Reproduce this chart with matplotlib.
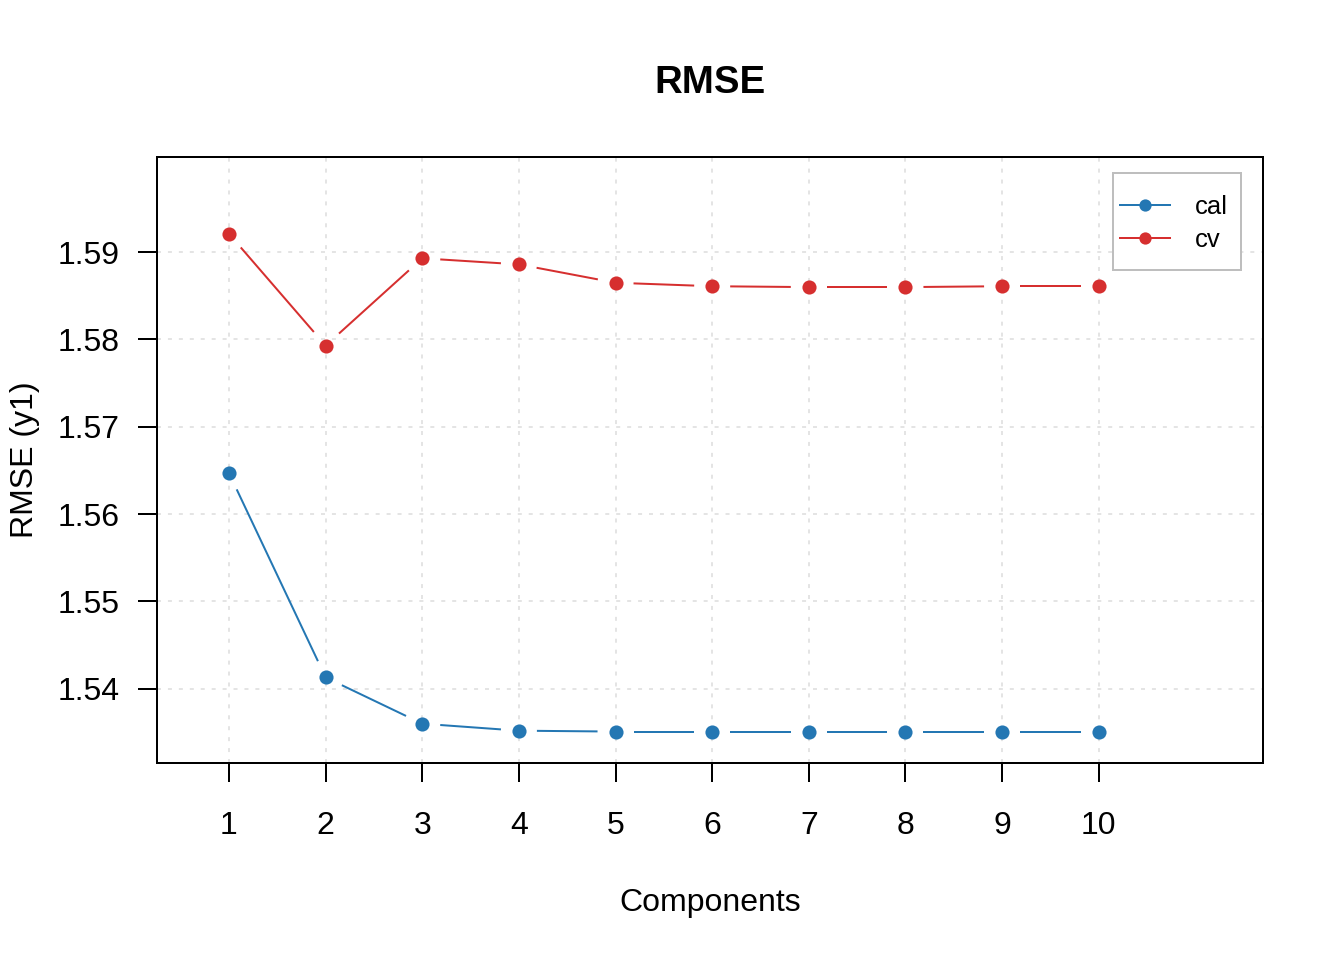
import matplotlib
matplotlib.use("Agg")
import matplotlib.pyplot as plt
from matplotlib.lines import Line2D
from matplotlib.patches import Rectangle
import numpy as np

plt.rcParams['font.family'] = ['Liberation Sans', 'DejaVu Sans']

# data
components = [1, 2, 3, 4, 5, 6, 7, 8, 9, 10]
rmse_cal = [1.5647, 1.5413, 1.5360, 1.5352, 1.5351, 1.5351, 1.5351, 1.5351, 1.5351, 1.5351]
rmse_cv = [1.5921, 1.5793, 1.5893, 1.5886, 1.5865, 1.5861, 1.5860, 1.5860, 1.5861, 1.5861]
yticks = [1.54, 1.55, 1.56, 1.57, 1.58, 1.59]

blue = '#2477b3'
red = '#d62f2f'
grid_col = '#dedede'

W, H = 1344, 960
fig = plt.figure(figsize=(7, 5), dpi=192)
ax = fig.add_axes([157/W, 1-763/H, (1263-157)/W, (763-157)/H])
ax.set_xlim(0.255, 11.70)
ax.set_ylim(1.5315, 1.6009)

# grid (dotted, very light)
glw = 0.6
gls = (0, (1.5/glw, 2.6/glw))
for v in components:
    ax.axvline(v, color=grid_col, lw=glw, ls=gls, zorder=1)
for v in yticks:
    ax.axhline(v, color=grid_col, lw=glw, ls=gls, zorder=1)


def gapped_line(x, y, color, gap=18):
    """R type='b': segments between points with a gap around each point"""
    pts = ax.transData.transform(np.column_stack([x, y]))
    inv = ax.transData.inverted()
    for a, b in zip(pts[:-1], pts[1:]):
        d = b - a
        n = np.hypot(*d)
        if n <= 2 * gap:
            continue
        u = d / n
        seg = inv.transform(np.array([a + u * gap, b - u * gap]))
        ax.plot(seg[:, 0], seg[:, 1], color=color, lw=0.75, zorder=2,
                solid_capstyle='butt')
    ax.plot(x, y, 'o', color=color, ms=5.3, mec='none', zorder=3)


gapped_line(components, rmse_cal, blue)
gapped_line(components, rmse_cv, red)

ax.set_xticks(components)
ax.set_yticks(yticks)
ax.set_yticklabels(['%.2f' % v for v in yticks])
ax.tick_params(axis='both', direction='out', length=7, width=0.75, labelsize=12)
ax.tick_params(axis='x', pad=11)
ax.tick_params(axis='y', pad=7)
for s in ax.spines.values():
    s.set_linewidth(0.75)

fig.text(710/W, 1-83/H, 'RMSE', ha='center', va='center', fontsize=14.4, fontweight='bold')
fig.text(710/W, 1-903/H, 'Components', ha='center', va='center', fontsize=12)
fig.text(25/W, 1-460/H, 'RMSE (y1)', ha='center', va='center', fontsize=12, rotation=90)

# legend box like R's legend()
ax.add_patch(Rectangle((1113/W, 1-270/H), 128/W, 97/H, transform=fig.transFigure,
                       facecolor='white', edgecolor='#bebebe', lw=0.75, zorder=5,
                       clip_on=False))
handles = [Line2D([], [], color=blue, lw=0.75, marker='o', ms=4.6, mec='none'),
           Line2D([], [], color=red, lw=0.75, marker='o', ms=4.6, mec='none')]
leg = ax.legend(handles, ['cal', 'cv'], loc='center left',
                bbox_to_anchor=(1120/W, 1-223.5/H), bbox_transform=fig.transFigure,
                borderaxespad=0, borderpad=0, fontsize=9.6, handlelength=1.95,
                handletextpad=0.98, labelspacing=0.36, frameon=False)
leg.set_zorder(6)

fig.savefig('out.png', dpi=192)
